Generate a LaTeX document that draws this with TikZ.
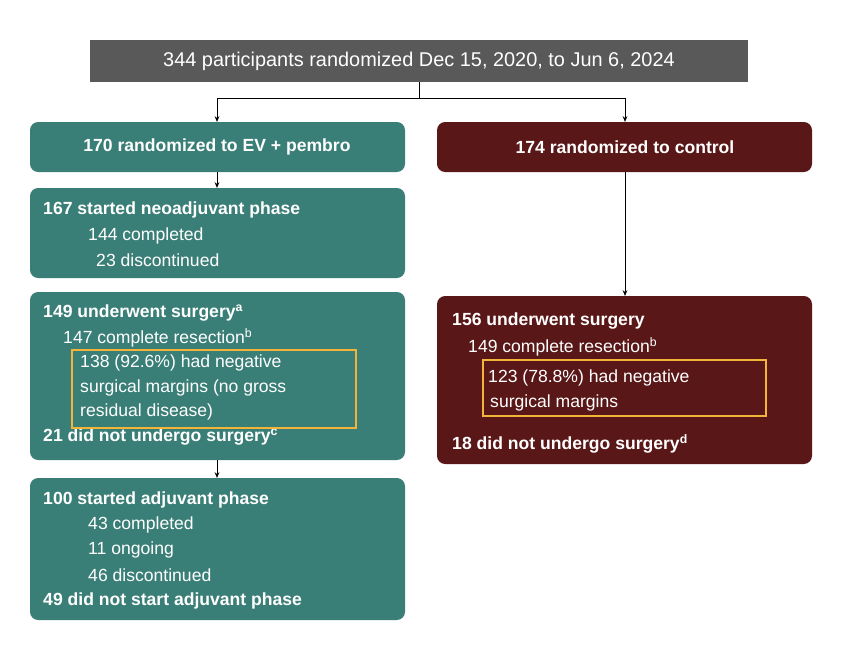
\documentclass[tikz,border=0pt]{standalone}
\usepackage{fontspec}
\setmainfont{Liberation Sans}
\usetikzlibrary{positioning, arrows.meta}
\definecolor{evteal}{HTML}{3A7F77}
\definecolor{ctrlred}{HTML}{5A1718}
\definecolor{topgray}{HTML}{595959}
\definecolor{hilite}{HTML}{F2B53A}
\begin{document}
\begin{tikzpicture}[x=0.03cm, y=-0.03cm,
  panel/.style={rounded corners=7pt},
  txt/.style={anchor=west, text=white, inner sep=0pt, font=\fontsize{15}{17}\selectfont},
  head/.style={txt, font=\fontsize{15}{17}\selectfont\bfseries},
  link/.style={-{Stealth[length=5pt,width=4pt]}, thick}]
\useasboundingbox (0,0) rectangle (850,646);

% Panels
\fill[topgray] (90,40) rectangle (748,82);
\node[text=white, font=\fontsize{17}{19}\selectfont] (rand) at (419,61) {344 participants randomized Dec 15, 2020, to Jun 6, 2024};
\coordinate (top) at (419,82);
\coordinate (split) at (419,98);

\fill[evteal, panel] (30,122) rectangle (405,172);
\fill[ctrlred, panel] (437,122) rectangle (812,172);
\fill[evteal, panel] (30,188) rectangle (405,278);
\fill[evteal, panel] (30,292) rectangle (405,460);
\fill[evteal, panel] (30,478) rectangle (405,620);
\fill[ctrlred, panel] (437,296) rectangle (812,464);
\coordinate (evTop) at (217,122);
\coordinate (evBot) at (217,172);
\coordinate (neoTop) at (217,188);
\coordinate (surgEBot) at (217,460);
\coordinate (adjTop) at (217,478);
\coordinate (ctrlTop) at (625,122);
\coordinate (ctrlBot) at (625,172);
\coordinate (surgCTop) at (625,296);

% Arm headers
\node[head, anchor=center] (ev) at (217,147) {170 randomized to EV + pembro};
\node[head, anchor=center] (ctrl) at (625,147) {174 randomized to control};

% Neoadjuvant
\node[head] (neo) at (43,210) {167 started neoadjuvant phase};
\node[txt] (neoA) at (88,236) {144 completed};
\node[txt] (neoB) at (96,260) {23 discontinued};

% Surgery, EV + pembro
\node[head] (surgE) at (43,313) {149 underwent surgery\textsuperscript{a}};
\node[txt] (resE) at (63,338) {147 complete resection\textsuperscript{b}};
\node[txt] (negE1) at (80,363) {138 (92.6\%) had negative};
\node[txt] (negE2) at (80,388) {surgical margins (no gross};
\node[txt] (negE3) at (80,412) {residual disease)};
\node[head] (noE) at (43,437) {21 did not undergo surgery\textsuperscript{c}};
\draw[hilite, very thick] (72,350) rectangle (356,428);

% Adjuvant
\node[head] (adj) at (43,500) {100 started adjuvant phase};
\node[txt] (adjA) at (88,525) {43 completed};
\node[txt] (adjB) at (88,550) {11 ongoing};
\node[txt] (adjC) at (88,575) {46 discontinued};
\node[head] (adjD) at (43,601) {49 did not start adjuvant phase};

% Surgery, control
\node[head] (surgC) at (452,321) {156 underwent surgery};
\node[txt] (resC) at (468,347) {149 complete resection\textsuperscript{b}};
\node[txt] (negC1) at (488,378) {123 (78.8\%) had negative};
\node[txt] (negC2) at (490,403) {surgical margins};
\node[head] (noC) at (452,444) {18 did not undergo surgery\textsuperscript{d}};
\draw[hilite, very thick] (483,360) rectangle (766,416);

% Connectors
\draw[thick] (top) -- (split);
\draw[link] (split) -| (evTop);
\draw[link] (split) -| (ctrlTop);
\draw[link] (evBot) -- (neoTop);
\draw[link] (surgEBot) -- (adjTop);
\draw[link] (ctrlBot) -- (surgCTop);
\end{tikzpicture}
\end{document}
